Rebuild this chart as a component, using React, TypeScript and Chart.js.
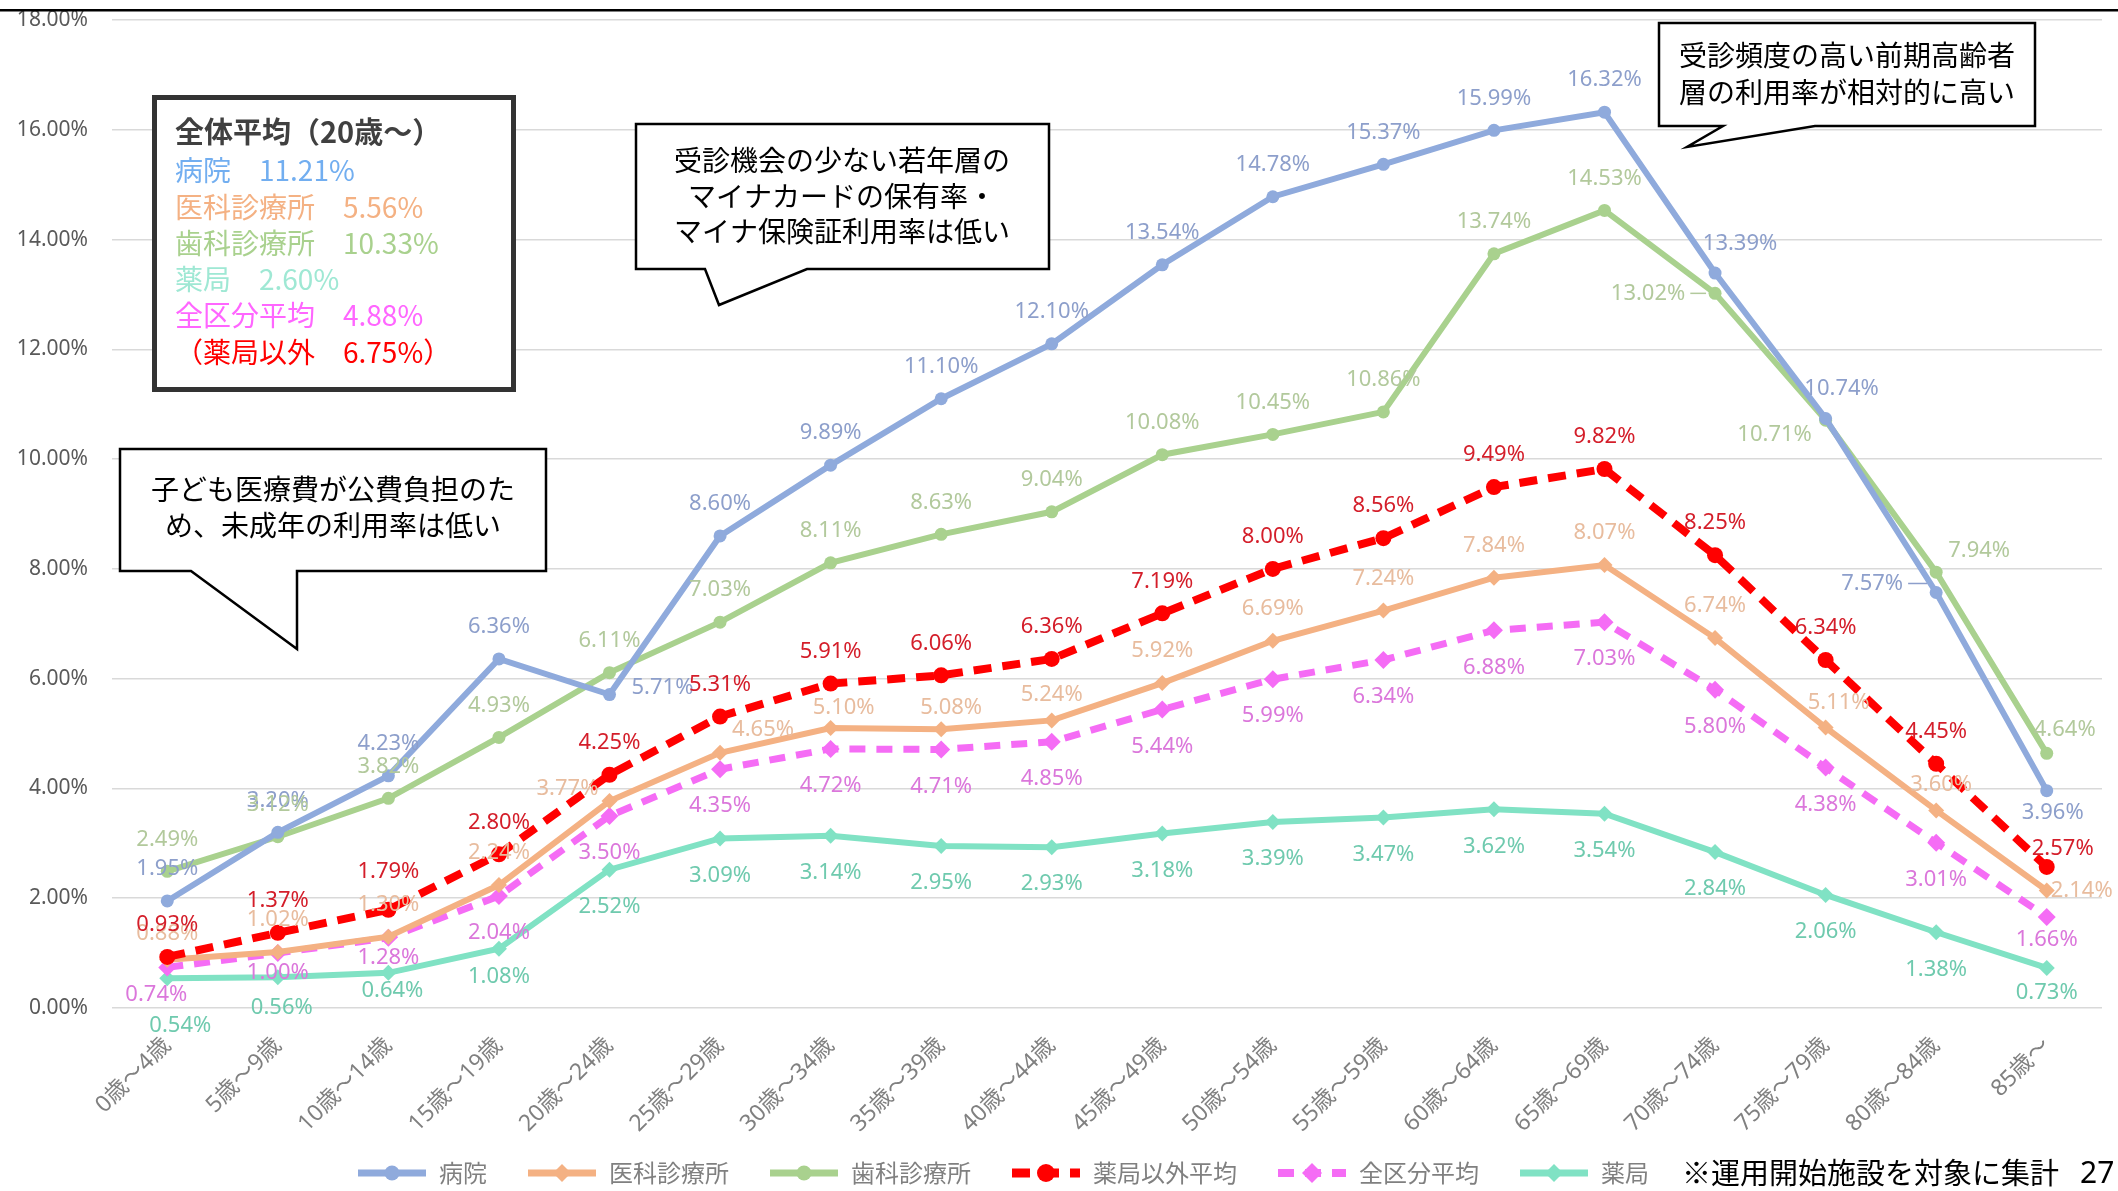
import { useEffect, useRef } from 'react';
import { Chart, registerables } from 'chart.js';

Chart.register(...registerables);

const WIDTH = 2118;
const HEIGHT = 1191;

// ---------- data ----------
const categories = [
  '0歳～4歳', '5歳～9歳', '10歳～14歳', '15歳～19歳', '20歳～24歳', '25歳～29歳',
  '30歳～34歳', '35歳～39歳', '40歳～44歳', '45歳～49歳', '50歳～54歳', '55歳～59歳',
  '60歳～64歳', '65歳～69歳', '70歳～74歳', '75歳～79歳', '80歳～84歳', '85歳～',
];

const seriesNames = ['病院', '医科診療所', '歯科診療所', '薬局以外平均', '全区分平均', '薬局'];

const hospitalRates = [1.95, 3.20, 4.23, 6.36, 5.71, 8.60, 9.89, 11.10, 12.10, 13.54, 14.78, 15.37, 15.99, 16.32, 13.39, 10.74, 7.57, 3.96];
const clinicRates = [0.88, 1.02, 1.30, 2.24, 3.77, 4.65, 5.10, 5.08, 5.24, 5.92, 6.69, 7.24, 7.84, 8.07, 6.74, 5.11, 3.60, 2.14];
const dentalRates = [2.49, 3.12, 3.82, 4.93, 6.11, 7.03, 8.11, 8.63, 9.04, 10.08, 10.45, 10.86, 13.74, 14.53, 13.02, 10.71, 7.94, 4.64];
const nonPharmacyAvgRates = [0.93, 1.37, 1.79, 2.80, 4.25, 5.31, 5.91, 6.06, 6.36, 7.19, 8.00, 8.56, 9.49, 9.82, 8.25, 6.34, 4.45, 2.57];
const allAvgRates = [0.74, 1.00, 1.28, 2.04, 3.50, 4.35, 4.72, 4.71, 4.85, 5.44, 5.99, 6.34, 6.88, 7.03, 5.80, 4.38, 3.01, 1.66];
const pharmacyRates = [0.54, 0.56, 0.64, 1.08, 2.52, 3.09, 3.14, 2.95, 2.93, 3.18, 3.39, 3.47, 3.62, 3.54, 2.84, 2.06, 1.38, 0.73];

const yMin = 0;
const yMax = 18;
const yStep = 2;

const summaryTitle = '全体平均（20歳～）';
const summaryRows = [
  '病院　11.21%',
  '医科診療所　5.56%',
  '歯科診療所　10.33%',
  '薬局　2.60%',
  '全区分平均　4.88%',
  '（薬局以外　6.75%）',
];

const calloutChildren = ['子ども医療費が公費負担のた', 'め、未成年の利用率は低い'];
const calloutYoung = ['受診機会の少ない若年層の', 'マイナカードの保有率・', 'マイナ保険証利用率は低い'];
const calloutElderly = ['受診頻度の高い前期高齢者', '層の利用率が相対的に高い'];
const footnote = '※運用開始施設を対象に集計';
const pageNumber = '27';

// ---------- styles ----------
const seriesData = [hospitalRates, clinicRates, dentalRates, nonPharmacyAvgRates, allAvgRates, pharmacyRates];

const seriesStyles = [
  { line: '#8FAADC', label: '#8D9FCB', width: 6, dash: [] as number[], point: 'circle', radius: 6.5 },
  { line: '#F4B183', label: '#E8BC9E', width: 6, dash: [] as number[], point: 'rectRot', radius: 8 },
  { line: '#A9D18E', label: '#B2C99C', width: 6, dash: [] as number[], point: 'circle', radius: 6.5 },
  { line: '#FF0000', label: '#D41E2A', width: 8, dash: [18, 11], point: 'circle', radius: 8 },
  { line: '#F56CF5', label: '#DB77DB', width: 7, dash: [16, 11], point: 'rectRot', radius: 9 },
  { line: '#80E2C4', label: '#6FCAAE', width: 6, dash: [] as number[], point: 'rectRot', radius: 8 },
];

const summaryColors = ['#72AEF0', '#F4B183', '#A9D18E', '#9FE8D4', '#FF66FF', '#FF0000'];

const labelDefaultDy = [-32, -32, -32, -32, 37, 37];
type Off = { dx?: number; dy?: number; leader?: boolean };
const labelOverrides: Record<number, Record<number, Off>> = {
  0: { 4: { dx: 53, dy: -7 }, 14: { dx: 25, dy: -29 }, 15: { dx: 16, dy: -30 }, 16: { dx: -64, dy: -9, leader: true }, 17: { dx: 6, dy: 22 } },
  1: { 0: { dy: -26 }, 4: { dx: -42, dy: -12 }, 5: { dx: 43, dy: -23 }, 6: { dx: 13, dy: -20 }, 7: { dx: 10, dy: -21 }, 8: { dy: -26 }, 15: { dx: 13, dy: -25 }, 16: { dx: 5, dy: -26 }, 17: { dx: 35, dy: 0 } },
  2: { 14: { dx: -67, dy: 0, leader: true }, 15: { dx: -51, dy: 15 }, 16: { dx: 43, dy: -21 }, 17: { dx: 18, dy: -24 } },
  3: { 2: { dy: -38 }, 17: { dx: 16, dy: -18 } },
  4: { 0: { dx: -11, dy: 27 }, 1: { dy: 20 }, 2: { dy: 20 }, 17: { dy: 23 } },
  5: { 0: { dx: 13, dy: 47 }, 1: { dx: 4, dy: 30 }, 2: { dx: 4, dy: 18 }, 3: { dy: 28 }, 17: { dy: 25 } },
};

const SANS = '"Noto Sans", "Noto Sans CJK JP", sans-serif';
const CJK = '"Noto Sans CJK JP", "Noto Sans", sans-serif';

function drawMarker(ctx: CanvasRenderingContext2D, style: string, x: number, y: number, r: number, color: string) {
  ctx.fillStyle = color;
  ctx.beginPath();
  if (style === 'rectRot') {
    ctx.moveTo(x, y - r);
    ctx.lineTo(x + r, y);
    ctx.lineTo(x, y + r);
    ctx.lineTo(x - r, y);
    ctx.closePath();
  } else {
    ctx.arc(x, y, r, 0, Math.PI * 2);
  }
  ctx.fill();
}

function drawCallout(ctx: CanvasRenderingContext2D, pts: number[][], lines: string[], cx: number, ys: number[]) {
  ctx.save();
  ctx.beginPath();
  pts.forEach((p, i) => (i === 0 ? ctx.moveTo(p[0], p[1]) : ctx.lineTo(p[0], p[1])));
  ctx.closePath();
  ctx.fillStyle = '#ffffff';
  ctx.fill();
  ctx.lineWidth = 2.5;
  ctx.lineJoin = 'miter';
  ctx.strokeStyle = '#000000';
  ctx.stroke();
  ctx.fillStyle = '#000000';
  ctx.font = `28px ${CJK}`;
  ctx.textAlign = 'center';
  ctx.textBaseline = 'middle';
  lines.forEach((t, i) => ctx.fillText(t, cx, ys[i]));
  ctx.restore();
}

const valueLabelPlugin = {
  id: 'valueLabels',
  afterDatasetsDraw(chart: any) {
    const ctx: CanvasRenderingContext2D = chart.ctx;
    ctx.save();
    ctx.font = `22px ${SANS}`;
    ctx.textAlign = 'center';
    ctx.textBaseline = 'middle';
    chart.data.datasets.forEach((ds: any, di: number) => {
      const meta = chart.getDatasetMeta(di);
      meta.data.forEach((pt: any, i: number) => {
        const v = ds.data[i] as number;
        const o = (labelOverrides[di] && labelOverrides[di][i]) || {};
        const dx = o.dx ?? 0;
        const dy = o.dy ?? labelDefaultDy[di];
        const tx = pt.x + dx;
        const ty = pt.y + dy;
        const text = v.toFixed(2) + '%';
        ctx.fillStyle = seriesStyles[di].label;
        ctx.fillText(text, tx, ty);
        if (o.leader) {
          const w = ctx.measureText(text).width;
          ctx.strokeStyle = seriesStyles[di].label;
          ctx.lineWidth = 1.5;
          ctx.beginPath();
          ctx.moveTo(tx + w / 2 + 5, ty);
          ctx.lineTo(pt.x - 9, ty);
          ctx.stroke();
        }
      });
    });
    ctx.restore();
  },
};

const decorPlugin = {
  id: 'decor',
  afterDraw(chart: any) {
    const ctx: CanvasRenderingContext2D = chart.ctx;
    ctx.save();

    // top rule
    ctx.fillStyle = '#000000';
    ctx.fillRect(0, 9, WIDTH, 2.5);

    // summary box
    ctx.fillStyle = '#ffffff';
    ctx.fillRect(152, 95, 364, 297);
    ctx.strokeStyle = '#333333';
    ctx.lineWidth = 5;
    ctx.strokeRect(154.5, 97.5, 359, 292);
    ctx.textAlign = 'left';
    ctx.textBaseline = 'middle';
    ctx.fillStyle = '#404040';
    ctx.font = `bold 29px ${CJK}`;
    ctx.fillText(summaryTitle, 175, 132);
    ctx.font = `28px ${CJK}`;
    const rowYs = [170, 207, 243, 279, 315, 352];
    summaryRows.forEach((t, i) => {
      ctx.fillStyle = summaryColors[i];
      ctx.fillText(t, 175, rowYs[i]);
    });

    // callouts
    drawCallout(ctx, [[120, 449], [546, 449], [546, 571], [297, 571], [297, 649], [191, 571], [120, 571]], calloutChildren, 333, [489, 525]);
    drawCallout(ctx, [[636, 124], [1049, 124], [1049, 269], [807, 269], [719, 305], [705, 269], [636, 269]], calloutYoung, 842, [160, 196, 231]);
    drawCallout(ctx, [[1659, 23], [2035, 23], [2035, 126], [1815, 126], [1687, 147], [1723, 126], [1659, 126]], calloutElderly, 1847, [55, 92]);

    // legend
    const ly = 1173;
    let x = 358;
    ctx.font = `24px ${CJK}`;
    ctx.textBaseline = 'middle';
    chart.data.datasets.forEach((ds: any, di: number) => {
      const st = seriesStyles[di];
      ctx.save();
      ctx.strokeStyle = st.line;
      ctx.lineWidth = st.width + 1;
      ctx.setLineDash(st.dash);
      ctx.beginPath();
      ctx.moveTo(x, ly);
      ctx.lineTo(x + 68, ly);
      ctx.stroke();
      ctx.restore();
      drawMarker(ctx, st.point, x + 34, ly, st.radius + 1, st.line);
      ctx.fillStyle = '#808080';
      ctx.textAlign = 'left';
      ctx.fillText(ds.label, x + 81, ly);
      x = x + 81 + ctx.measureText(ds.label).width + 41;
    });

    // footnote & page number
    ctx.fillStyle = '#000000';
    ctx.font = `29px ${CJK}`;
    ctx.fillText(footnote, 1682, ly);
    ctx.font = `30px ${SANS}`;
    ctx.fillText(pageNumber, 2080, ly + 1);

    ctx.restore();
  },
};

export default function App() {
  const canvasRef = useRef<HTMLCanvasElement | null>(null);

  useEffect(() => {
    const canvas = canvasRef.current;
    if (!canvas) return;
    const datasets = seriesData.map((d, i) => {
      const st = seriesStyles[i];
      return {
        label: seriesNames[i],
        data: d,
        borderColor: st.line,
        backgroundColor: st.line,
        borderWidth: st.width,
        borderDash: st.dash,
        pointStyle: st.point as any,
        pointRadius: st.radius,
        pointBackgroundColor: st.line,
        pointBorderColor: st.line,
        pointBorderWidth: 0,
        tension: 0,
        fill: false,
        order: i === 5 ? 10 : i === 3 ? 0 : i + 1,
      };
    });

    const chart = new Chart(canvas, {
      type: 'line',
      data: { labels: categories, datasets },
      options: {
        animation: false,
        responsive: false,
        devicePixelRatio: 1,
        events: [],
        layout: { padding: { top: 20, right: 16, left: 0, bottom: 0 } },
        plugins: {
          legend: { display: false },
          tooltip: { enabled: false },
        },
        scales: {
          x: {
            type: 'category',
            offset: true,
            grid: { display: false, drawTicks: false },
            border: { display: false },
            ticks: {
              autoSkip: false,
              maxRotation: 45,
              minRotation: 45,
              padding: 24,
              color: '#808080',
              font: { family: SANS, size: 23 },
            },
            afterFit: (scale: any) => {
              scale.height = 183;
              scale.paddingTop = 0;
              scale.paddingBottom = 0;
              scale.paddingLeft = 0;
              scale.paddingRight = 0;
            },
          },
          y: {
            min: yMin,
            max: yMax,
            grid: { color: '#D9D9D9', lineWidth: 1.5, drawTicks: false },
            border: { display: false },
            ticks: {
              stepSize: yStep,
              padding: 24,
              color: '#595959',
              font: { family: SANS, size: 21 },
              callback: (v: any) => Number(v).toFixed(2) + '%',
            },
            afterFit: (scale: any) => {
              scale.width = 112;
              scale.paddingTop = 0;
              scale.paddingBottom = 0;
              scale.paddingLeft = 0;
              scale.paddingRight = 0;
            },
          },
        },
      },
      plugins: [valueLabelPlugin, decorPlugin],
    });

    return () => chart.destroy();
  }, []);

  return (
    <canvas
      ref={canvasRef}
      width={WIDTH}
      height={HEIGHT}
      style={{ position: 'absolute', left: 0, top: 0, width: WIDTH, height: HEIGHT, background: '#ffffff' }}
    />
  );
}
